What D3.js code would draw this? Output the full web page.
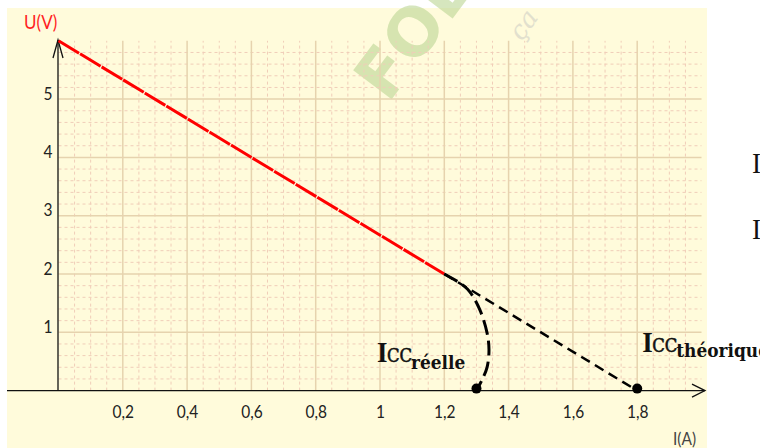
<!DOCTYPE html>
<html><head><meta charset="utf-8">
<script src="https://cdn.jsdelivr.net/npm/d3@7"></script>
<style>html,body{margin:0;padding:0;background:#fff;}svg{display:block;}</style>
</head><body>
<svg id="c" width="760" height="448"></svg>
<script>
// ---- data ----
const xTickValues = [0.2, 0.4, 0.6, 0.8, 1, 1.2, 1.4, 1.6, 1.8];
const yTickValues = [1, 2, 3, 4, 5];
const linearPart = [[0, 6], [1.2, 2]];            // measured U(I), red
const theoreticalPart = [[1.2, 2], [1.8, 0]];     // extrapolation, dashed
const realCurve = [[1.2, 2], [1.258, 1.81], [1.28, 1.69], [1.311, 1.38], [1.333, 0.99],
                   [1.339, 0.70], [1.333, 0.40], [1.317, 0.18], [1.3, 0]];
const shortCircuitPoints = [[1.3, 0], [1.8, 0]];
const iccReal = 1.3, iccTheo = 1.8;

const svg = d3.select("#c");
const x = d3.scaleLinear().domain([0, 2]).range([58.5, 701.5]);
const y = d3.scaleLinear().domain([0, 6]).range([390.6, 40.8]);
const SY = 1.15;

// background
svg.append("rect").attr("x", 7).attr("y", 8).attr("width", 700).attr("height", 440).attr("fill", "#fffbdb");

// watermark
const wm = svg.append("g").attr("opacity", 0.6);
wm.append("text").attr("transform", "translate(388,104) rotate(-53)")
  .attr("font-family", "DejaVu Sans").attr("font-weight", "bold").attr("font-size", 66)
  .attr("fill", "#bcd694").text("FOL");
wm.append("text").attr("transform", "translate(522,42) rotate(-55)")
  .attr("font-family", "DejaVu Serif").attr("font-style", "italic").attr("font-size", 26)
  .attr("fill", "#cfcfc6").text("ça");

// grid
const grid = svg.append("g");
grid.selectAll(".vmin").data(x.ticks(40).filter(d => d > 0 && Math.abs(d * 5 - Math.round(d * 5)) > 1e-6))
  .join("line").attr("x1", d => x(d)).attr("x2", d => x(d)).attr("y1", y(0)).attr("y2", y(6))
  .attr("stroke", "#f0cdb8").attr("stroke-width", 1).attr("stroke-dasharray", "3,3");
grid.selectAll(".hmin").data(y.ticks(30).filter(d => d > 0 && d < 6 && Math.abs(d - Math.round(d)) > 1e-6))
  .join("line").attr("x1", x(0)).attr("x2", x(2)).attr("y1", d => y(d)).attr("y2", d => y(d))
  .attr("stroke", "#f0cdb8").attr("stroke-width", 1).attr("stroke-dasharray", "3,3");
grid.selectAll(".vmaj").data(x.ticks(10).filter(d => d > 0 && d < 2))
  .join("line").attr("x1", d => x(d)).attr("x2", d => x(d)).attr("y1", y(0)).attr("y2", y(6))
  .attr("stroke", "#e6d3ae").attr("stroke-width", 1.5);
grid.selectAll(".hmaj").data(y.ticks(6).filter(d => d > 0 && d < 6))
  .join("line").attr("x1", x(0)).attr("x2", x(2)).attr("y1", d => y(d)).attr("y2", d => y(d))
  .attr("stroke", "#e6d3ae").attr("stroke-width", 1.5);

// axes lines with arrows
const ax = svg.append("g").attr("stroke", "#111").attr("fill", "none").attr("stroke-width", 1.3);
ax.append("line").attr("x1", 7).attr("x2", 705).attr("y1", y(0)).attr("y2", y(0));
ax.append("path").attr("d", `M692,${y(0) - 6.5}L705,${y(0)}L692,${y(0) + 6.5}`);
ax.append("line").attr("x1", x(0) - 0.5).attr("x2", x(0) - 0.5).attr("y1", y(0)).attr("y2", 40);
ax.append("path").attr("d", `M${x(0) - 5.5},58L${x(0) - 0.5},40L${x(0) + 4.5},58`);

// tick labels via d3 axes
const fmt = d => String(d).replace(".", ",");
const gx = svg.append("g").attr("transform", `translate(0,${y(0)})`)
  .call(d3.axisBottom(x).tickValues(xTickValues).tickSize(0).tickFormat(fmt));
gx.select(".domain").remove();
gx.selectAll("text").attr("y", 0).attr("dy", 0)
  .attr("transform", `translate(0,27) scale(1,${SY})`)
  .attr("font-family", "Lato").attr("font-size", 15.5).attr("fill", "#222");

const gy = svg.append("g").attr("transform", `translate(${x(0)},0)`)
  .call(d3.axisLeft(y).tickValues(yTickValues).tickSize(0).tickFormat(fmt));
gy.select(".domain").remove();
gy.selectAll("text").attr("x", 0).attr("dy", 0)
  .attr("transform", `translate(-6,0) scale(1,${SY})`).attr("text-anchor", "end")
  .attr("font-family", "Lato").attr("font-size", 15.5).attr("fill", "#222");

// axis titles
svg.append("text").attr("transform", `translate(24,29) scale(1,${SY})`)
  .attr("font-family", "Lato").attr("font-size", 17).attr("fill", "#ff1f1f").text("U(V)");
svg.append("text").attr("transform", `translate(673,445) scale(1,${SY})`)
  .attr("font-family", "Lato").attr("font-size", 15.5).attr("fill", "#444").text("I(A)");

// curves
const line = d3.line().x(d => x(d[0])).y(d => y(d[1]));
svg.append("path").datum(linearPart).attr("d", line).attr("fill", "none")
  .attr("stroke", "#ff0000").attr("stroke-width", 3).attr("stroke-dasharray", "24,1.2");
svg.append("path").datum(theoreticalPart).attr("d", line).attr("fill", "none")
  .attr("stroke", "#000").attr("stroke-width", 2.5).attr("stroke-dasharray", "10,6");
svg.append("path").datum(realCurve).attr("d", line.curve(d3.curveCatmullRom)).attr("fill", "none")
  .attr("stroke", "#000").attr("stroke-width", 3).attr("stroke-dasharray", "15,6");
svg.selectAll(".pt").data(shortCircuitPoints).join("circle")
  .attr("cx", d => x(d[0])).attr("cy", d => y(d[1]) - 2).attr("r", 5).attr("fill", "#000");

// ICC labels
function icc(px, py, sub, subDy) {
  const g = svg.append("g").attr("transform", `translate(${px},${py}) scale(1,1.12)`);
  const t = g.append("text").attr("fill", "#111");
  t.append("tspan").attr("x", 0).attr("y", 0).attr("font-family", "Liberation Serif")
    .attr("font-size", 27).attr("font-weight", "bold").text("I");
  t.append("tspan").attr("x", 10).attr("y", 0).attr("font-family", "DejaVu Serif").attr("font-size", 16.5)
    .attr("stroke", "#111").attr("stroke-width", 0.5).text("CC");
  t.append("tspan").attr("x", 34).attr("y", subDy).attr("font-family", "DejaVu Serif")
    .attr("font-size", 17).attr("font-weight", "bold").text(sub);
}
icc(x(iccReal) - 99.5, 362, "réelle", 6.3);
icc(x(iccTheo) + 5, 352, "théorique", 4.5);

// cut-off letters at right edge
[173, 239].forEach(b => svg.append("text").attr("transform", `translate(752,${b}) scale(1,1.12)`)
  .attr("font-family", "Liberation Serif").attr("font-size", 27).attr("fill", "#111").text("I"));
</script>
</body></html>
